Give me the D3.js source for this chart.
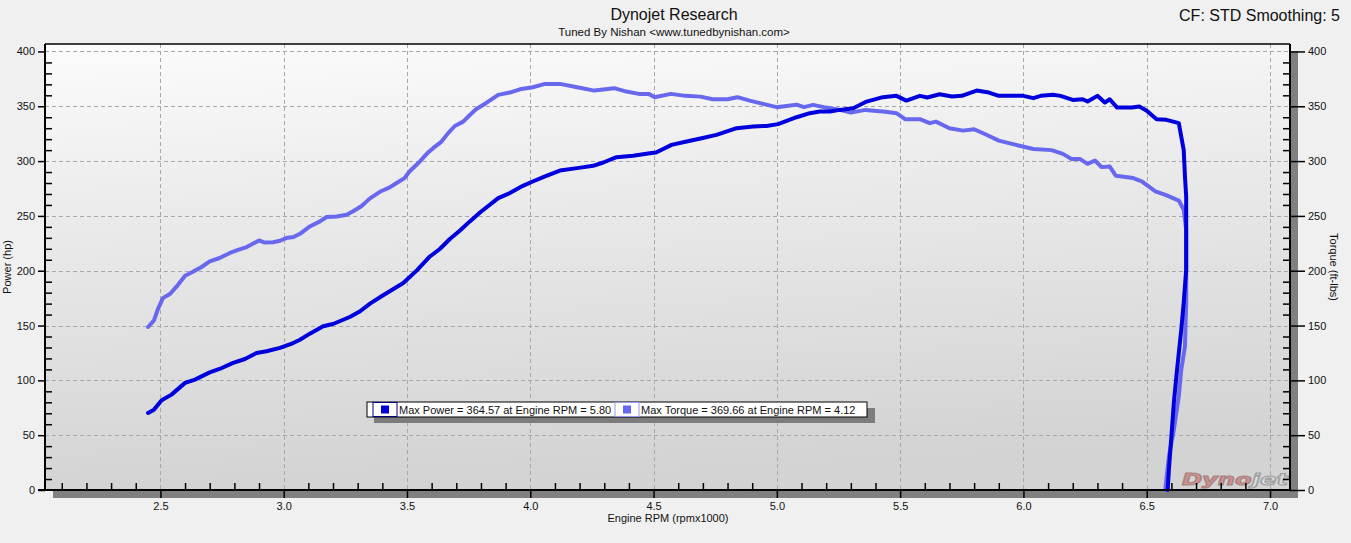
<!DOCTYPE html>
<html lang="en">
<head>
  <meta charset="UTF-8" />
  <title>Dynojet Research</title>
  <script src="https://d3js.org/d3.v7.min.js"></script>
  <style>
    body {
      margin: 0;
      background: #f0f0f0;
      font-family: "Liberation Sans", Arial, sans-serif;
    }
    svg text { fill: #111; }
    .tick text { font-size: 11px; font-family: "Liberation Sans", Arial, sans-serif; }
  </style>
</head>
<body>
  <div id="chart"></div>
  <script>
    // Power curve (hp) – rpm x1000 / value pairs
    const powerRpm = [2.45, 2.474, 2.505, 2.545, 2.60, 2.64, 2.70, 2.74, 2.795, 2.843, 2.89, 2.93, 2.985, 3.03, 3.066, 3.106, 3.16, 3.20, 3.268, 3.31, 3.35, 3.40, 3.485, 3.54, 3.593, 3.633, 3.674, 3.715, 3.755, 3.796, 3.87, 3.917, 3.97, 4.01, 4.06, 4.12, 4.19, 4.255, 4.296, 4.35, 4.417, 4.485, 4.51, 4.573, 4.634, 4.695, 4.755, 4.837, 4.904, 4.958, 5.005, 5.08, 5.134, 5.174, 5.215, 5.255, 5.31, 5.364, 5.43, 5.485, 5.525, 5.58, 5.61, 5.66, 5.71, 5.75, 5.81, 5.86, 5.90, 6.00, 6.04, 6.07, 6.12, 6.15, 6.20, 6.24, 6.26, 6.30, 6.33, 6.35, 6.38, 6.44, 6.47, 6.50, 6.54, 6.58, 6.63, 6.64, 6.65, 6.655, 6.66, 6.66, 6.66, 6.65, 6.64, 6.63, 6.62, 6.61, 6.60, 6.59, 6.585];
    const powerHp = [70.3, 73.3, 81.8, 87, 97.7, 100.7, 107.3, 110.4, 115.9, 119.5, 125, 126.5, 129.6, 133.2, 137.1, 142.6, 149.3, 151.4, 157.8, 163, 170, 177.2, 188.8, 200.3, 213, 219.8, 228.9, 236.7, 245, 253.1, 266.2, 270.8, 277.4, 281.4, 286, 291.4, 293.6, 295.7, 298.7, 303.6, 304.8, 307.2, 307.8, 314.8, 317.8, 320.9, 323.9, 330, 331.5, 332.1, 333.7, 340, 343.7, 345.2, 345.2, 346.7, 348.2, 354.3, 358.3, 359.5, 355.2, 359.5, 358, 361, 359, 359.5, 364.3, 362.5, 359.5, 359.5, 357.4, 359.5, 360.6, 359.5, 355.8, 356.4, 354.3, 359.5, 353.4, 356.4, 348.8, 348.8, 349.7, 346, 338.2, 337.6, 334.6, 322.4, 310, 286, 267.7, 231, 201, 171, 146, 125, 103, 80, 49, 19, 0];

    // Torque curve (ft-lbs)
    const torqueRpm = [2.45, 2.474, 2.49, 2.51, 2.54, 2.566, 2.60, 2.63, 2.667, 2.70, 2.74, 2.78, 2.815, 2.85, 2.90, 2.92, 2.957, 2.985, 3.01, 3.04, 3.066, 3.106, 3.147, 3.174, 3.215, 3.255, 3.28, 3.316, 3.35, 3.39, 3.43, 3.458, 3.49, 3.51, 3.545, 3.58, 3.606, 3.64, 3.667, 3.694, 3.728, 3.755, 3.78, 3.82, 3.87, 3.917, 3.958, 4.01, 4.06, 4.12, 4.19, 4.26, 4.34, 4.39, 4.44, 4.48, 4.505, 4.57, 4.63, 4.69, 4.74, 4.80, 4.84, 4.89, 4.944, 4.999, 5.04, 5.08, 5.11, 5.147, 5.20, 5.255, 5.30, 5.36, 5.44, 5.485, 5.52, 5.58, 5.62, 5.645, 5.70, 5.755, 5.80, 5.85, 5.90, 5.97, 6.04, 6.114, 6.16, 6.195, 6.23, 6.26, 6.29, 6.317, 6.35, 6.375, 6.445, 6.48, 6.535, 6.576, 6.63, 6.65, 6.66, 6.66, 6.66, 6.655, 6.64, 6.63, 6.61, 6.59, 6.575];
    const torqueLbs = [148.7, 154.7, 165, 175, 179, 185.7, 195.4, 198.8, 203.4, 208.5, 211.6, 216, 219, 221.6, 227.6, 225.8, 226, 227.3, 229.8, 230.7, 233.7, 240.4, 245, 249, 249.5, 251, 254, 259, 266, 272, 276, 280, 284.5, 290.5, 298, 306.6, 311.8, 317.8, 325.5, 332, 336, 342, 347.3, 352.8, 360.4, 362.5, 365.5, 367.4, 370.4, 370.4, 367.4, 364.3, 366.5, 363.4, 361.3, 361.3, 358.3, 361.3, 359.5, 358.8, 356.4, 356.4, 358.3, 355.2, 352.2, 349.2, 350.3, 351.5, 349.2, 351.3, 348.8, 346.7, 344.2, 346.7, 344.9, 343.7, 338.2, 338.2, 334.6, 336, 330, 327.8, 329, 324, 318.7, 314.8, 311, 310, 306.6, 302, 301.8, 297.5, 300.5, 294.5, 295, 286.6, 284.5, 281.4, 272.3, 269.2, 264, 255.6, 237.4, 213, 170.6, 131, 109.8, 85.5, 55, 30.8, 0];

    const xMajorTicks = [2.5, 3.0, 3.5, 4.0, 4.5, 5.0, 5.5, 6.0, 6.5, 7.0];
    const xMinorTicks = d3.range(21, 71).filter(i => i % 5 !== 0).map(i => i / 10);
    const yMajorTicks = [0, 50, 100, 150, 200, 250, 300, 350, 400];
    const yMinorTicks = d3.range(0, 410, 10).filter(v => v % 50 !== 0);

    const legendLabels = ["Max Power = 364.57 at Engine RPM = 5.80", "Max Torque = 369.66 at Engine RPM = 4.12"];

    const width = 1351, height = 543;
    const margin = {top: 44, right: 61, bottom: 53, left: 45};
    const plotW = width - margin.left - margin.right;
    const plotH = height - margin.top - margin.bottom;
    const powerColor = "#0000dc", torqueColor = "#6868ef";

    const svg = d3.select("#chart").append("svg")
      .attr("width", width)
      .attr("height", height);

    const x = d3.scaleLinear().domain([2.032, 7.081]).range([margin.left, margin.left + plotW]);
    const y = d3.scaleLinear().domain([0, 406.8]).range([margin.top + plotH, margin.top]);

    // background gradient of the plot area
    const defs = svg.append("defs");
    const grad = defs.append("linearGradient").attr("id", "bg")
      .attr("x1", "0").attr("y1", "0").attr("x2", "0.15").attr("y2", "1");
    grad.append("stop").attr("offset", "0%").attr("stop-color", "#fcfcfc");
    grad.append("stop").attr("offset", "35%").attr("stop-color", "#ececec");
    grad.append("stop").attr("offset", "100%").attr("stop-color", "#d3d3d3");

    // shadow bars (right and bottom)
    svg.append("rect")
      .attr("x", margin.left + plotW).attr("y", y(400))
      .attr("width", 8).attr("height", (margin.top + plotH + 8) - y(400))
      .attr("fill", "#808080");
    svg.append("rect")
      .attr("x", margin.left + 8).attr("y", margin.top + plotH)
      .attr("width", plotW).attr("height", 8)
      .attr("fill", "#808080");

    svg.append("rect")
      .attr("x", margin.left).attr("y", margin.top)
      .attr("width", plotW).attr("height", plotH)
      .attr("fill", "url(#bg)");

    // grid
    const grid = svg.append("g").attr("stroke", "#a8a8a8").attr("stroke-dasharray", "4,3").attr("stroke-width", 1);
    grid.selectAll("line.gx").data(xMajorTicks).enter().append("line")
      .attr("x1", d => Math.round(x(d)) + 0.5).attr("x2", d => Math.round(x(d)) + 0.5)
      .attr("y1", margin.top).attr("y2", margin.top + plotH);
    grid.selectAll("line.gy").data(yMajorTicks.filter(v => v > 0)).enter().append("line")
      .attr("x1", margin.left).attr("x2", margin.left + plotW)
      .attr("y1", d => Math.round(y(d)) + 0.5).attr("y2", d => Math.round(y(d)) + 0.5);

    // logo
    const logo = svg.append("text")
      .attr("x", 1182)
      .attr("y", 485)
      .attr("textLength", 106)
      .attr("lengthAdjust", "spacingAndGlyphs")
      .style("font-family", "'DejaVu Sans', sans-serif")
      .style("font-weight", "bold")
      .style("font-style", "italic")
      .style("font-size", "15px")
      .style("stroke-width", "1px")
      .style("opacity", 0.8);
    logo.append("tspan").style("fill", "#d27f7f").style("stroke", "#9a7070").text("Dyno");
    logo.append("tspan").style("fill", "#dcdcdc").style("stroke", "#909090").text("jet");

    // curves
    const line = d3.line().x(d => x(d[0])).y(d => y(d[1])).curve(d3.curveLinear);
    const torqueData = d3.zip(torqueRpm, torqueLbs);
    const powerData = d3.zip(powerRpm, powerHp);

    svg.append("path").datum(torqueData)
      .attr("fill", "none").attr("stroke", torqueColor).attr("stroke-width", 4)
      .attr("stroke-linejoin", "round").attr("stroke-linecap", "round")
      .attr("d", line);
    svg.append("path").datum(powerData)
      .attr("fill", "none").attr("stroke", powerColor).attr("stroke-width", 4)
      .attr("stroke-linejoin", "round").attr("stroke-linecap", "round")
      .attr("d", line);

    // axes
    const bottom = margin.top + plotH;
    const right = margin.left + plotW;

    svg.append("g").attr("transform", `translate(0,${bottom})`)
      .call(d3.axisBottom(x).tickValues(xMinorTicks).tickSize(-7).tickFormat(""))
      .call(g => g.select(".domain").remove())
      .selectAll("line").attr("stroke", "#000").attr("stroke-width", 1.5);

    svg.append("g").attr("transform", `translate(0,${bottom})`)
      .call(d3.axisBottom(x).tickValues(xMajorTicks).tickSize(8).tickPadding(4).tickFormat(d3.format(".1f")))
      .call(g => g.select(".domain").remove())
      .call(g => g.selectAll("line").attr("stroke", "#000").attr("stroke-width", 1.5));

    svg.append("g").attr("transform", `translate(${margin.left},0)`)
      .call(d3.axisLeft(y).tickValues(yMinorTicks).tickSize(-7).tickFormat(""))
      .call(g => g.select(".domain").remove())
      .selectAll("line").attr("stroke", "#000").attr("stroke-width", 1.5);

    svg.append("g").attr("transform", `translate(${margin.left},0)`)
      .call(d3.axisLeft(y).tickValues(yMajorTicks).tickSize(7).tickPadding(3))
      .call(g => g.select(".domain").remove())
      .call(g => g.selectAll("line").attr("stroke", "#000").attr("stroke-width", 1.5));

    svg.append("g").attr("transform", `translate(${right},0)`)
      .call(d3.axisRight(y).tickValues(yMinorTicks).tickSize(-7).tickFormat(""))
      .call(g => g.select(".domain").remove())
      .selectAll("line").attr("stroke", "#000").attr("stroke-width", 1.5);

    svg.append("g").attr("transform", `translate(${right},0)`)
      .call(d3.axisRight(y).tickValues(yMajorTicks).tickSize(15).tickPadding(3))
      .call(g => g.select(".domain").remove())
      .call(g => g.selectAll("line").attr("stroke", "#000").attr("stroke-width", 1.5));

    // frame
    const frame = svg.append("g").attr("stroke", "#000").attr("stroke-width", 2).attr("fill", "none");
    frame.append("line").attr("x1", margin.left).attr("x2", right).attr("y1", margin.top).attr("y2", margin.top).attr("stroke-width", 1.5);
    frame.append("line").attr("x1", margin.left).attr("x2", margin.left).attr("y1", margin.top).attr("y2", bottom);
    frame.append("line").attr("x1", right).attr("x2", right).attr("y1", margin.top).attr("y2", bottom);
    frame.append("line").attr("x1", margin.left - 7).attr("x2", right).attr("y1", bottom).attr("y2", bottom);

    // axis titles
    svg.append("text")
      .attr("x", 668).attr("y", 522)
      .attr("text-anchor", "middle").style("font-size", "11px")
      .text("Engine RPM (rpmx1000)");
    svg.append("text")
      .attr("transform", `translate(11,${(margin.top + bottom) / 2}) rotate(-90)`)
      .attr("text-anchor", "middle").style("font-size", "11px")
      .text("Power (hp)");
    svg.append("text")
      .attr("transform", `translate(1330,${(margin.top + bottom) / 2}) rotate(90)`)
      .attr("text-anchor", "middle").style("font-size", "11px")
      .text("Torque (ft-lbs)");

    // titles
    svg.append("text").attr("x", 674).attr("y", 20).attr("text-anchor", "middle")
      .style("font-size", "16px").text("Dynojet Research");
    svg.append("text").attr("x", 674).attr("y", 36).attr("text-anchor", "middle")
      .style("font-size", "11.5px").text("Tuned By Nishan <www.tunedbynishan.com>");
    svg.append("text").attr("x", 1340).attr("y", 21).attr("text-anchor", "end")
      .style("font-size", "16px").text("CF: STD Smoothing: 5");

    // legend
    const lg = svg.append("g").attr("transform", "translate(367,402)");
    lg.append("rect").attr("x", 7).attr("y", 6).attr("width", 501).attr("height", 15).attr("fill", "#7d7d7d");
    lg.append("rect").attr("x", 0).attr("y", 0).attr("width", 500).attr("height", 15)
      .attr("fill", "#fff").attr("stroke", "#000").attr("stroke-width", 1);
    const swatchX = [6, 248], textX = [32, 274];
    [powerColor, torqueColor].forEach((c, i) => {
      lg.append("rect").attr("x", swatchX[i]).attr("y", 0.5).attr("width", 24).attr("height", 14)
        .attr("fill", "#fff").attr("stroke", i === 0 ? "#000080" : "#9a9af0").attr("stroke-width", 1);
      lg.append("rect").attr("x", swatchX[i] + 8).attr("y", 3.5).attr("width", 8).attr("height", 8).attr("fill", c);
      lg.append("text").attr("x", textX[i]).attr("y", 11.5).style("font-size", "11px").text(legendLabels[i]);
    });
  </script>
</body>
</html>
